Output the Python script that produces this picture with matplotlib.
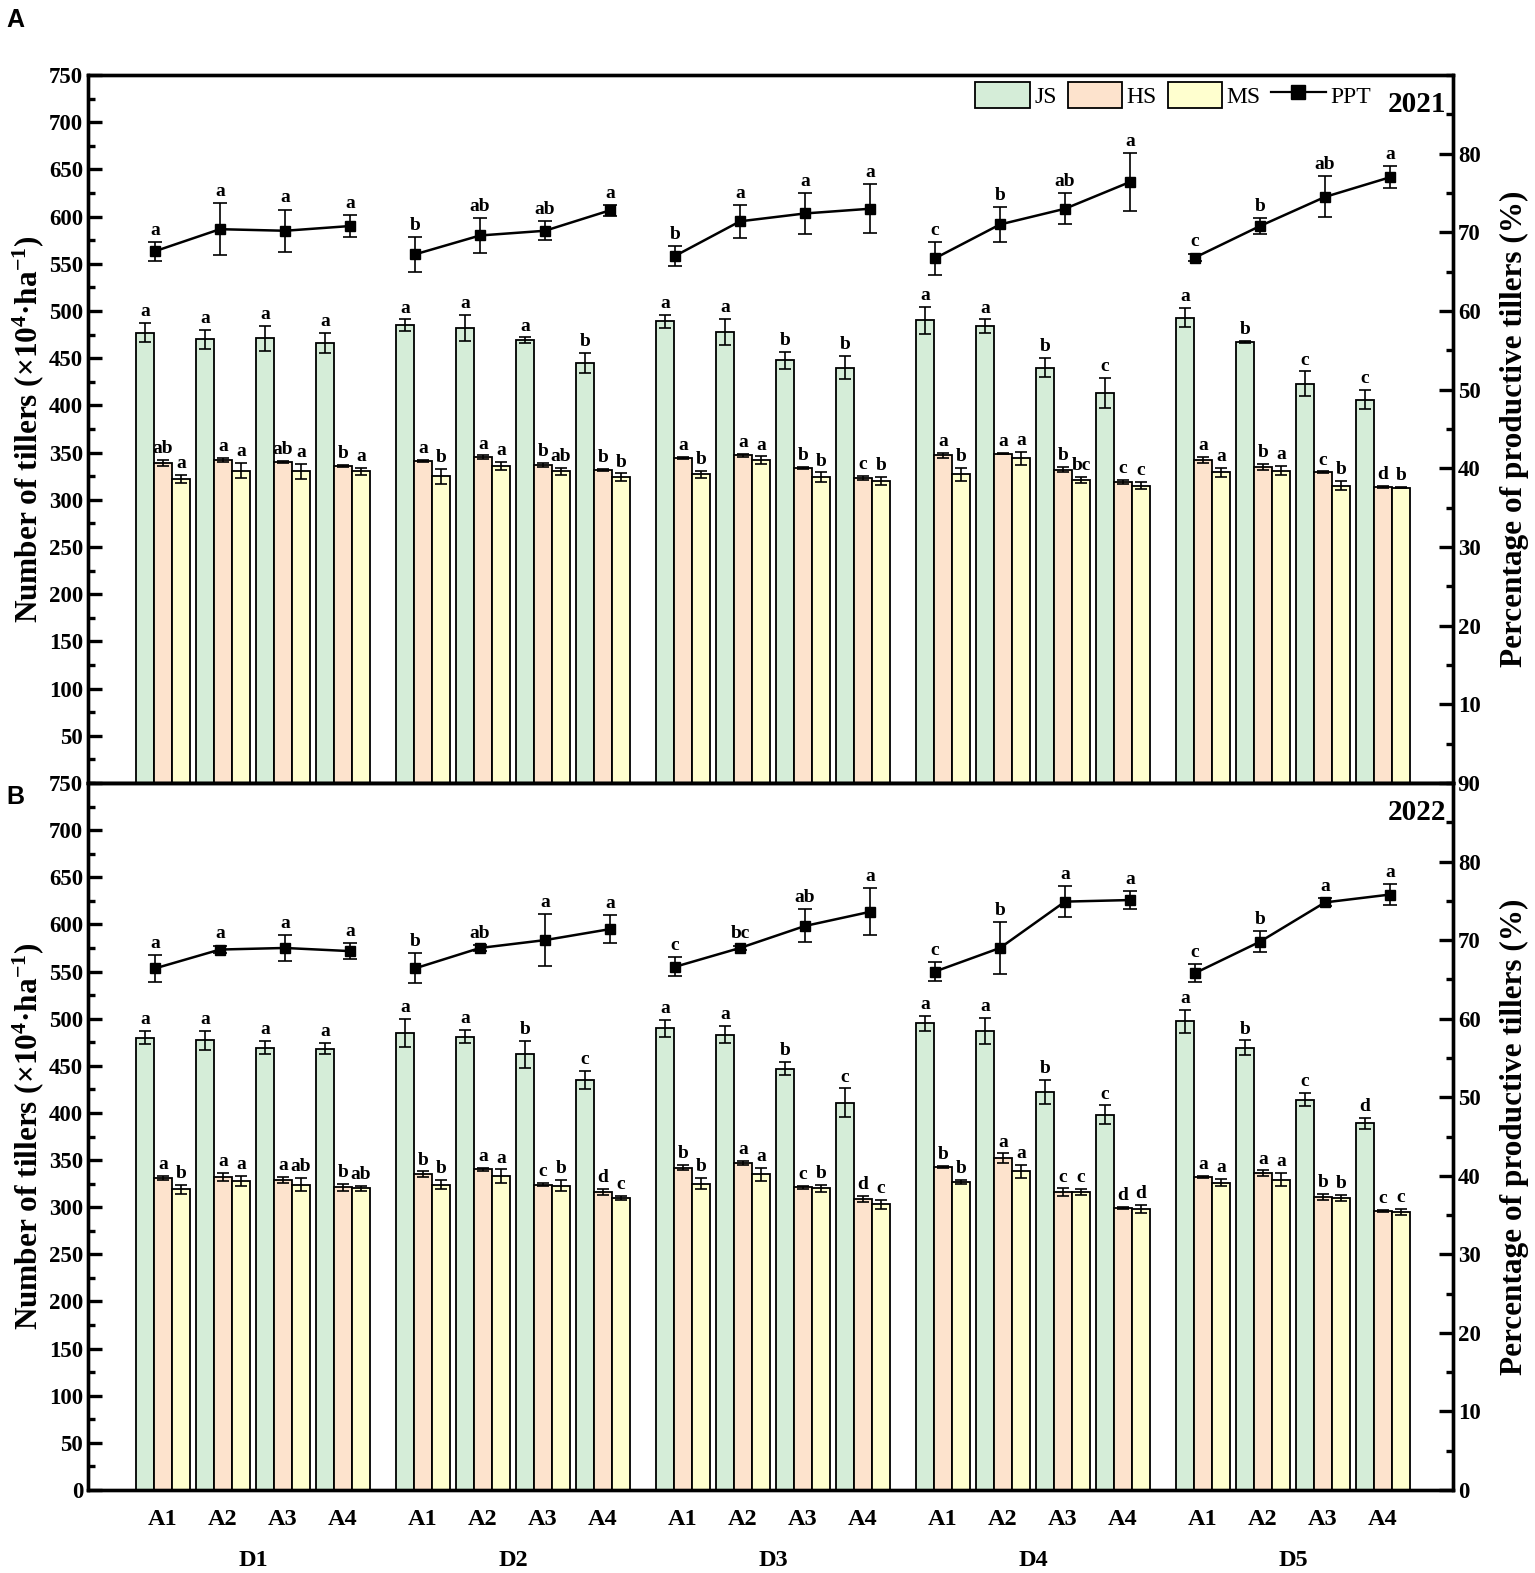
import matplotlib
matplotlib.use('Agg')
import matplotlib.pyplot as plt
from matplotlib.lines import Line2D
from matplotlib.patches import Patch
from matplotlib.ticker import MultipleLocator

plt.rcParams['font.family'] = ['Liberation Serif', 'DejaVu Serif']
plt.rcParams['font.weight'] = 'bold'
plt.rcParams['axes.labelweight'] = 'bold'
plt.rcParams['mathtext.fontset'] = 'custom'
plt.rcParams['mathtext.rm'] = 'Liberation Serif:bold'
plt.rcParams['mathtext.it'] = 'Liberation Serif:bold'
plt.rcParams['mathtext.bf'] = 'Liberation Serif:bold'

d_levels = ['D1', 'D2', 'D3', 'D4', 'D5']
a_levels = ['A1', 'A2', 'A3', 'A4']

# ---- 2021 ----
js_21 = [477, 470, 471, 466, 485, 482, 469, 445, 489, 478, 448, 440,
         490, 484, 440, 413, 493, 467, 423, 406]
js_21_err = [10, 10, 13, 11, 6, 14, 3, 11, 7, 14, 9, 12,
             14, 7, 10, 16, 10, 1, 13, 10]
hs_21 = [339, 342, 340, 336, 341, 345, 337, 332, 344, 347, 334, 323,
         347, 349, 332, 319, 342, 335, 329, 314]
hs_21_err = [3, 2, 1, 1, 1, 2, 2, 1, 1, 2, 1, 2,
             3, 1, 3, 2, 3, 3, 1, 1]
ms_21 = [322, 331, 330, 330, 325, 336, 330, 324, 327, 342, 324, 320,
         327, 344, 321, 315, 329, 331, 315, 313]
ms_21_err = [4, 8, 8, 4, 8, 4, 4, 4, 4, 4, 5, 4,
             7, 7, 3, 4, 5, 5, 5, 1]
ppt_21 = [67.6, 70.4, 70.2, 70.8, 67.2, 69.6, 70.2, 72.8, 67.0, 71.4, 72.4, 73.0,
          66.7, 71.0, 73.0, 76.4, 66.8, 70.8, 74.5, 77.0]
ppt_21_err = [1.2, 3.3, 2.7, 1.4, 2.2, 2.2, 1.2, 0.7, 1.3, 2.1, 2.6, 3.1,
              2.1, 2.2, 2.0, 3.7, 0.5, 1.0, 2.6, 1.4]
js_21_let = 'a a a a a a a b a a b b a a b c a b c c'.split()
hs_21_let = 'ab a ab b a a b b a a b c a a b c a b c d'.split()
ms_21_let = 'a a a a b a ab b b a b b b a bc c a a b b'.split()
ppt_21_let = 'a a a a b ab ab a b a a a c b ab a c b ab a'.split()

# ---- 2022 ----
js_22 = [480, 477, 469, 468, 485, 481, 462, 435, 490, 483, 447, 411,
         495, 487, 422, 398, 497, 469, 414, 389]
js_22_err = [7, 10, 7, 6, 15, 7, 14, 10, 9, 9, 7, 15,
             8, 14, 13, 10, 12, 8, 7, 6]
hs_22 = [331, 332, 329, 321, 335, 340, 324, 316, 342, 347, 321, 309,
         343, 352, 316, 299, 332, 336, 311, 296]
hs_22_err = [2, 4, 3, 4, 3, 2, 2, 3, 3, 2, 2, 3,
             1, 5, 4, 1, 1, 3, 3, 1]
ms_22 = [319, 328, 324, 320, 324, 333, 323, 310, 325, 335, 320, 303,
         327, 338, 316, 298, 326, 329, 310, 295]
ms_22_err = [5, 5, 7, 3, 5, 7, 6, 2, 6, 7, 4, 5,
             2, 7, 3, 4, 4, 7, 3, 3]
ppt_22 = [66.4, 68.8, 69.0, 68.6, 66.4, 69.0, 70.0, 71.4, 66.6, 69.0, 71.8, 73.6,
          66.0, 69.0, 74.9, 75.1, 65.8, 69.8, 74.8, 75.8]
ppt_22_err = [1.7, 0.5, 1.6, 1.0, 1.9, 0.4, 3.3, 1.8, 1.2, 0.3, 2.1, 3.0,
              1.2, 3.3, 2.0, 1.1, 1.1, 1.3, 0.5, 1.3]
js_22_let = 'a a a a a a b c a a b c a a b c a b c d'.split()
hs_22_let = 'a a a b b a c d b a c d b a c d a a b c'.split()
ms_22_let = 'b a ab ab b a b c b a b c b a c d a a b c'.split()
ppt_22_let = 'a a a a b ab a a c bc ab a c b a a c b a a'.split()

c_js = '#d5edd8'
c_hs = '#fde3cd'
c_ms = '#ffffcf'

# grouped bar centres and evenly spaced PPT points
bar_x = [d * 260 / 60 + a for d in range(5) for a in range(4)]
ppt_x = [-8 / 60 + k * 65 / 60 for k in range(20)]
w = 0.3

fig = plt.figure(figsize=(15.35, 15.73), dpi=100)
L, R = 88 / 1535, 1453 / 1535
ax_top = fig.add_axes([L, 1 - 783 / 1573, R - L, (783 - 75) / 1573])
ax_bot = fig.add_axes([L, 1 - 1490 / 1573, R - L, (1490 - 783) / 1573])


def style(ax, ax2):
    for a in (ax, ax2):
        for s in a.spines.values():
            s.set_linewidth(2.4)
    ax.tick_params(axis='y', which='major', direction='in', length=10, width=2.4, labelsize=16.5)
    ax.tick_params(axis='y', which='minor', direction='in', length=5, width=2.4)
    ax2.tick_params(axis='y', which='major', direction='in', length=10, width=2.4, labelsize=16.5)
    ax2.tick_params(axis='y', which='minor', direction='in', length=5, width=2.4)
    ax.yaxis.set_minor_locator(MultipleLocator(25))
    ax2.yaxis.set_minor_locator(MultipleLocator(5))
    ax.set_xlim(-1.25, 21.5)
    ax.set_ylim(0, 750)
    ax2.set_ylim(0, 90)
    ax.set_ylabel(r'Number of tillers (×10$^{4}$·ha$^{-1}$)', fontsize=22.5, labelpad=2)
    ax2.set_ylabel('Percentage of productive tillers (%)', fontsize=22.5, labelpad=14)


def panel(ax, js, jse, hs, hse, ms, mse, ppt, ppte, jl, hl, ml, pl, year):
    ek = dict(elinewidth=1.2, capthick=1.2, ecolor='black')
    series = [(js, jse, jl, c_js, -w, 'JS'), (hs, hse, hl, c_hs, 0, 'HS'),
              (ms, mse, ml, c_ms, w, 'MS')]
    for vals, errs, lets, col, off, lab in series:
        xs = [x + off for x in bar_x]
        ax.bar(xs, vals, w, color=col, edgecolor='black', linewidth=1.3,
               yerr=errs, capsize=4, error_kw=ek, label=lab)
        for x, v, e, t in zip(xs, vals, errs, lets):
            ax.text(x, v + e + 3, t, ha='center', va='bottom', fontsize=14)
    ax2 = ax.twinx()
    # one PPT line per D level
    for d in range(5):
        s = slice(d * 4, d * 4 + 4)
        ax2.errorbar(ppt_x[s], ppt[s], yerr=ppte[s], color='black', marker='s',
                     markersize=7, linewidth=1.8, capsize=5, elinewidth=1.2, capthick=1.2)
    for x, v, e, t in zip(ppt_x, ppt, ppte, pl):
        ax2.text(x, v + e + 0.4, t, ha='center', va='bottom', fontsize=14)
    ax.text(0.995, 0.977, year, transform=ax.transAxes, ha='right', va='top', fontsize=21)
    style(ax, ax2)
    return ax2


ax2_top = panel(ax_top, js_21, js_21_err, hs_21, hs_21_err, ms_21, ms_21_err,
                ppt_21, ppt_21_err, js_21_let, hs_21_let, ms_21_let, ppt_21_let, '2021')
ax2_bot = panel(ax_bot, js_22, js_22_err, hs_22, hs_22_err, ms_22, ms_22_err,
                ppt_22, ppt_22_err, js_22_let, hs_22_let, ms_22_let, ppt_22_let, '2022')

# tick labels: top panel hides 0 on the left and 0/90 on the right
ax_top.set_yticks(range(50, 751, 50))
ax2_top.set_yticks(range(10, 81, 10))
ax_bot.set_yticks(range(0, 751, 50))
ax2_bot.set_yticks(range(0, 91, 10))
ax_top.set_xticks([])
ax_bot.set_xticks(bar_x)
ax_bot.set_xticklabels(a_levels * 5, fontsize=17.5)
ax_bot.tick_params(axis='x', length=0, pad=14)

for d, name in enumerate(d_levels):
    cx = sum(bar_x[d * 4:d * 4 + 4]) / 4
    ax_bot.text(cx, -0.1, name, transform=ax_bot.get_xaxis_transform(),
                ha='center', va='center', fontsize=17.5)

handles = [Patch(facecolor=c_js, edgecolor='black', linewidth=1.3),
           Patch(facecolor=c_hs, edgecolor='black', linewidth=1.3),
           Patch(facecolor=c_ms, edgecolor='black', linewidth=1.3),
           Line2D([], [], color='black', marker='s', markersize=10, linewidth=1.6)]
leg = ax_top.legend(handles, ['JS', 'HS', 'MS', 'PPT'], ncol=4, frameon=False,
                    loc='upper right', bbox_to_anchor=(0.94, 0.99), borderpad=0,
                    borderaxespad=0, handlelength=2.3, handleheight=1.3,
                    handletextpad=0.2, columnspacing=0.45,
                    prop={'family': 'Liberation Serif', 'weight': 'normal', 'size': 17})

fig.text(0.004, 1 - 8 / 1573, 'A', fontfamily='Liberation Sans', fontweight='bold',
         fontsize=18, ha='left', va='top')
fig.text(0.004, 1 - 785 / 1573, 'B', fontfamily='Liberation Sans', fontweight='bold',
         fontsize=18, ha='left', va='top')

fig.savefig('out.png', dpi=100)
